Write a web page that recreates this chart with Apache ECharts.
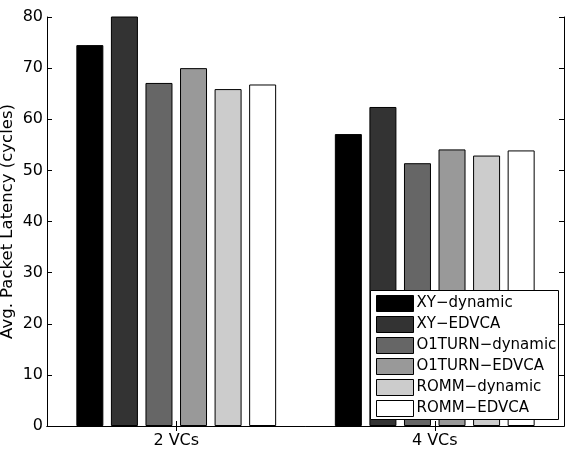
<!DOCTYPE html>
<html>
<head>
<meta charset="utf-8">
<script src="https://cdn.jsdelivr.net/npm/echarts@6/dist/echarts.min.js"></script>
<style>
  html, body { margin: 0; padding: 0; background: #fff; }
  #chart { width: 571px; height: 452px; }
</style>
</head>
<body>
<div id="chart"></div>
<script>
// 数据：两组 VC 配置下各路由/分配策略的平均包延迟
const categories = ['2 VCs', '4 VCs'];
const seriesNames = ['XY−dynamic', 'XY−EDVCA', 'O1TURN−dynamic', 'O1TURN−EDVCA', 'ROMM−dynamic', 'ROMM−EDVCA'];
const xyDynamic = [74.5, 57.1];
const xyEdvca = [81, 62.4];
const o1turnDynamic = [67.1, 51.4];
const o1turnEdvca = [70.0, 54.1];
const rommDynamic = [65.9, 52.9];
const rommEdvca = [66.8, 53.9];
const yTicks = [0, 10, 20, 30, 40, 50, 60, 70, 80];

const seriesValues = [xyDynamic, xyEdvca, o1turnDynamic, o1turnEdvca, rommDynamic, rommEdvca];
const fills = ['#000000', '#333333', '#666666', '#999999', '#cccccc', '#ffffff'];
const font = 'DejaVu Sans';

const chart = echarts.init(document.getElementById('chart'));

const inTick = { show: true, inside: true, length: 5, lineStyle: { color: '#000', width: 1 } };

const option = {
    animation: false,
    backgroundColor: '#fff',
    grid: { left: 47, top: 17, right: 7, bottom: 26, containLabel: false, outerBoundsMode: 'none' },
    xAxis: [
        {
            type: 'category', data: categories, position: 'bottom',
            axisLine: { lineStyle: { color: '#000', width: 1 } },
            axisTick: Object.assign({ alignWithLabel: true }, inTick),
            axisLabel: { color: '#000', fontFamily: font, fontSize: 16, margin: 7 }
        },
        {
            type: 'category', data: categories, position: 'top',
            axisLine: { lineStyle: { color: '#000', width: 1 } },
            axisTick: Object.assign({ alignWithLabel: true }, inTick),
            axisLabel: { show: false }
        }
    ],
    yAxis: [
        {
            type: 'value', min: yTicks[0], max: yTicks[yTicks.length - 1], interval: 10,
            name: 'Avg. Packet Latency (cycles)', nameLocation: 'middle', nameGap: 31,
            nameMoveOverlap: false,
            nameTextStyle: { color: '#000', fontFamily: font, fontSize: 16.5 },
            axisLine: { show: true, lineStyle: { color: '#000', width: 1 } },
            axisTick: inTick,
            axisLabel: { color: '#000', fontFamily: font, fontSize: 16, margin: 4 },
            splitLine: { show: false }
        },
        {
            type: 'value', min: yTicks[0], max: yTicks[yTicks.length - 1], interval: 10, position: 'right',
            axisLine: { show: true, lineStyle: { color: '#000', width: 1 } },
            axisTick: inTick,
            axisLabel: { show: false },
            splitLine: { show: false }
        }
    ],
    legend: {
        orient: 'vertical', left: 376, top: 295, padding: 0,
        itemWidth: 37, itemHeight: 16, itemGap: 4, z: 20,
        icon: 'rect',
        itemStyle: { borderColor: '#000', borderWidth: 1 },
        textStyle: { color: '#000', fontFamily: font, fontSize: 15, padding: [0, 0, 0, -2] },
        data: seriesNames
    },
    graphic: [{
        type: 'rect', z: 15,
        shape: { x: 370.5, y: 290.5, width: 188, height: 129 },
        style: { fill: '#fff', stroke: '#000', lineWidth: 1 }
    }],
    series: seriesNames.map((name, i) => ({
        name: name, type: 'bar', data: seriesValues[i],
        barWidth: 27, barGap: '28%', clip: true,
        itemStyle: { color: fills[i], borderColor: '#000', borderWidth: 1 }
    }))
};
chart.setOption(option);
</script>
</body>
</html>
